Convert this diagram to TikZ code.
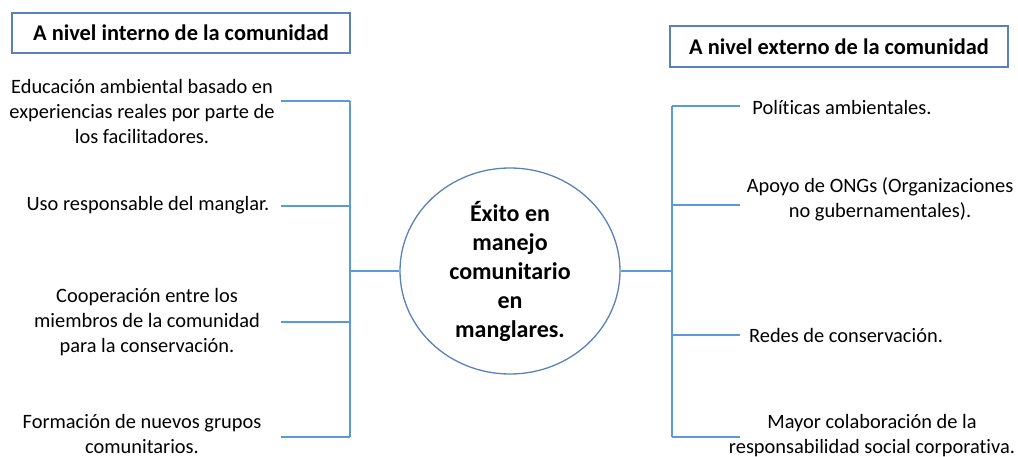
\documentclass[tikz,border=0pt]{standalone}
\usepackage{fontspec}
\setmainfont{Carlito}[Ligatures=NoCommon]
\usepackage{xcolor}
\usetikzlibrary{shapes.geometric}
\definecolor{tickblue}{HTML}{5B9BD5}
\definecolor{boxblue}{HTML}{5A82B8}
\tikzset{
  titlebox/.style={draw=boxblue, line width=1.8pt, minimum width=338pt, minimum height=40pt,
    inner sep=0pt, font=\fontsize{22.4}{27}\selectfont\bfseries},
  item/.style={align=center, inner sep=0pt, font=\fontsize{20.4}{25}\selectfont},
  branch/.style={draw=tickblue, line width=1.3pt},
}
\begin{document}
\begin{tikzpicture}[x=1pt, y=-1pt]
\useasboundingbox (0,0) rectangle (1018,457);
%%%%% Titles %%%%%
\node[titlebox] (interno) at (181,33) {A nivel interno de la comunidad};
\node[titlebox, minimum height=41pt] (externo) at (839,46.5) {A nivel externo de la comunidad};
%%%%% Center %%%%%
\node[ellipse, draw=boxblue, line width=1.3pt, minimum width=220pt, minimum height=206pt,
  inner sep=0pt, align=center, font=\fontsize{24}{29}\selectfont\bfseries] (exito) at (510,271)
  {Éxito en\\manejo\\comunitario\\en\\manglares.};
%%%%% Left items %%%%%
\node[item] (educacion) at (142,111.5) {Educación ambiental basado en\\experiencias reales por parte de\\los facilitadores.};
\node[item] (uso) at (148,205) {Uso responsable del manglar.};
\node[item] (cooperacion) at (147,322) {Cooperación entre los\\miembros de la comunidad\\para la conservación.};
\node[item] (formacion) at (142,434) {Formación de nuevos grupos\\comunitarios.};
%%%%% Right items %%%%%
\node[item] (politicas) at (842,107) {Políticas ambientales.};
\node[item] (apoyo) at (880,199) {Apoyo de ONGs (Organizaciones\\no gubernamentales).};
\node[item] (redes) at (846,335) {Redes de conservación.};
\node[item] (mayor) at (872,436) {Mayor colaboración de la\\responsabilidad social corporativa.};
%%%%% Connectors %%%%%
\foreach \y [count=\i] in {101,206,322,437}{
  \coordinate (lend\i) at (281,\y);
  \coordinate (lspine\i) at (350,\y);
}
\foreach \y [count=\i] in {106,205,335,437}{
  \coordinate (rspine\i) at (672,\y);
  \coordinate (rend\i) at (740,\y);
}
\coordinate (lhub) at (350,271);
\coordinate (rhub) at (672,271);
\draw[branch] (lspine1) -- (lspine4);
\draw[branch] (rspine1) -- (rspine4);
\foreach \i in {1,...,4}{
  \draw[branch] (lend\i) -- (lspine\i);
  \draw[branch] (rspine\i) -- (rend\i);
}
\draw[branch] (lhub) -- (exito.west);
\draw[branch] (exito.east) -- (rhub);
\end{tikzpicture}
\end{document}
